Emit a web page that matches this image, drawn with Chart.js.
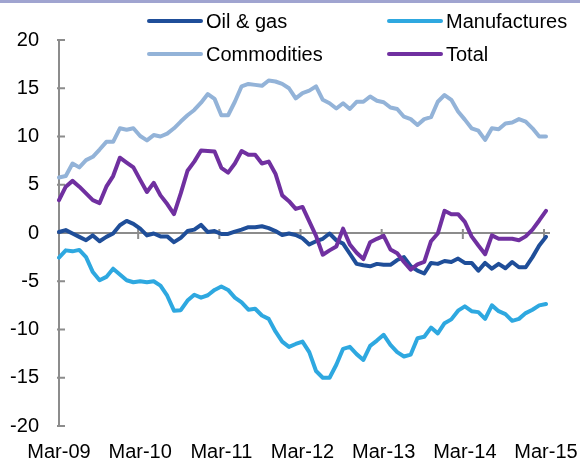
<!DOCTYPE html>
<html lang="en">
<head>
    <meta charset="UTF-8">
    <title>Exports growth</title>
    <script src="https://cdn.jsdelivr.net/npm/chart.js"></script>
    <style>
        body {
            margin: 0;
            background: #ffffff;
            font-family: "Liberation Sans", Arial, sans-serif;
        }

        .wrap {
            position: relative;
            width: 580px;
            height: 459px;
            overflow: hidden;
        }

        .top-band {
            position: absolute;
            top: 0;
            left: 0;
            width: 580px;
            height: 3px;
            background: #a0a4d0;
        }

        .legend-item {
            position: absolute;
            display: flex;
            align-items: center;
            height: 20px;
            font-size: 20px;
            line-height: 20px;
            color: #000;
        }

        .legend-item .swatch {
            width: 56px;
            height: 4px;
            border-radius: 2px;
            margin-right: 3px;
        }
    </style>
</head>
<body>
    <div class="wrap">
        <canvas id="exportsChart" width="580" height="459"></canvas>
        <div class="top-band"></div>
        <div id="legend"></div>
    </div>

    <script>
        const categories = [
            'Mar-09', 'Apr-09', 'May-09', 'Jun-09', 'Jul-09', 'Aug-09', 'Sep-09', 'Oct-09', 'Nov-09', 'Dec-09',
            'Jan-10', 'Feb-10', 'Mar-10', 'Apr-10', 'May-10', 'Jun-10', 'Jul-10', 'Aug-10', 'Sep-10', 'Oct-10', 'Nov-10', 'Dec-10',
            'Jan-11', 'Feb-11', 'Mar-11', 'Apr-11', 'May-11', 'Jun-11', 'Jul-11', 'Aug-11', 'Sep-11', 'Oct-11', 'Nov-11', 'Dec-11',
            'Jan-12', 'Feb-12', 'Mar-12', 'Apr-12', 'May-12', 'Jun-12', 'Jul-12', 'Aug-12', 'Sep-12', 'Oct-12', 'Nov-12', 'Dec-12',
            'Jan-13', 'Feb-13', 'Mar-13', 'Apr-13', 'May-13', 'Jun-13', 'Jul-13', 'Aug-13', 'Sep-13', 'Oct-13', 'Nov-13', 'Dec-13',
            'Jan-14', 'Feb-14', 'Mar-14', 'Apr-14', 'May-14', 'Jun-14', 'Jul-14', 'Aug-14', 'Sep-14', 'Oct-14', 'Nov-14', 'Dec-14',
            'Jan-15', 'Feb-15', 'Mar-15'
        ];
        const tickLabels = ['Mar-09', 'Mar-10', 'Mar-11', 'Mar-12', 'Mar-13', 'Mar-14', 'Mar-15'];

        const oilGas = [
            0.1, 0.3, -0.05, -0.4, -0.75, -0.25, -0.85, -0.4, -0.05, 0.8, 1.25, 0.95,
            0.45, -0.25, -0.05, -0.35, -0.35, -0.95, -0.5, 0.2, 0.35, 0.85, 0.1, 0.2,
            -0.1, -0.1, 0.15, 0.35, 0.6, 0.6, 0.7, 0.5, 0.2, -0.2, -0.05, -0.2,
            -0.55, -1.2, -0.85, -0.6, -0.05, -0.75, -1.1, -2.15, -3.2, -3.35, -3.45, -3.2,
            -3.3, -3.3, -2.8, -2.5, -3.45, -3.9, -4.2, -3.1, -3.2, -2.9, -3.0, -2.65,
            -3.1, -3.1, -3.9, -3.1, -3.7, -3.2, -3.65, -3.0, -3.55, -3.55, -2.5, -1.3,
            -0.4
        ];
        const manufactures = [
            -2.55, -1.8, -1.9, -1.75, -2.5, -4.05, -4.9, -4.55, -3.7, -4.3, -4.9, -5.1,
            -5.0, -5.1, -5.0, -5.45, -6.5, -8.05, -8.0, -7.0, -6.4, -6.7, -6.45, -5.9,
            -5.55, -5.9, -6.7, -7.2, -7.95, -7.85, -8.55, -8.9, -10.2, -11.25, -11.8, -11.5,
            -11.25, -12.35, -14.3, -15.0, -15.0, -13.65, -12.0, -11.8, -12.55, -13.15, -11.7, -11.15,
            -10.55, -11.6, -12.35, -12.8, -12.6, -10.9, -10.75, -9.8, -10.4, -9.35, -8.95, -8.05,
            -7.6, -8.1, -8.2, -8.9, -7.5, -8.1, -8.4, -9.1, -8.9, -8.3, -7.95, -7.5,
            -7.35
        ];
        const commodities = [
            5.75, 5.9, 7.2, 6.8, 7.55, 7.9, 8.65, 9.45, 9.45, 10.85, 10.7, 10.85,
            10.05, 9.6, 10.15, 10.0, 10.3, 10.85, 11.55, 12.2, 12.75, 13.5, 14.4, 13.9,
            12.2, 12.2, 13.6, 15.2, 15.45, 15.35, 15.25, 15.8, 15.7, 15.45, 15.0, 13.95,
            14.5, 14.75, 15.2, 13.8, 13.45, 12.9, 13.45, 12.85, 13.6, 13.6, 14.15, 13.7,
            13.55, 13.0, 12.85, 12.05, 11.8, 11.2, 11.8, 12.0, 13.6, 14.3, 13.8, 12.6,
            11.75, 10.85, 10.6, 9.65, 10.85, 10.75, 11.35, 11.45, 11.8, 11.55, 10.85, 10.0,
            10.0
        ];
        const total = [
            3.4, 4.8, 5.4, 4.8, 4.1, 3.4, 3.1, 4.8, 5.9, 7.8, 7.3, 6.8,
            5.5, 4.25, 5.2, 3.9, 3.0, 1.95, 4.1, 6.45, 7.4, 8.55, 8.5, 8.45,
            6.75, 6.25, 7.2, 8.5, 8.1, 8.1, 7.2, 7.4, 6.15, 3.9, 3.3, 2.5,
            2.7, 1.2, -0.3, -2.25, -1.8, -1.4, 0.45, -1.2, -2.05, -2.7, -0.95, -0.6,
            -0.3, -1.7, -2.1, -3.0, -3.8, -3.25, -3.0, -0.85, -0.05, 2.3, 1.95, 1.95,
            1.15, -0.35, -1.3, -2.2, -0.25, -0.6, -0.6, -0.6, -0.75, -0.35, 0.35, 1.3,
            2.3
        ];

        const axisColor = '#8c8c8c';
        const fontFamily = '"Liberation Sans", Arial, sans-serif';

        // zero line, x tick marks crossing it and inside y ticks
        const axisMarks = {
            id: 'axisMarks',
            beforeDatasetsDraw(chart) {
                const { ctx, chartArea, scales: { x, y } } = chart;
                const y0 = y.getPixelForValue(0);
                ctx.save();
                ctx.strokeStyle = axisColor;
                ctx.lineWidth = 2;
                ctx.beginPath();
                ctx.moveTo(chartArea.left, y0);
                ctx.lineTo(chartArea.right + 4, y0);
                categories.forEach((c, i) => {
                    if (i > 0 && tickLabels.includes(c)) {
                        const px = x.getPixelForValue(i) - 2;
                        ctx.moveTo(px, y0 - 4);
                        ctx.lineTo(px, y0 + 6);
                    }
                });
                y.ticks.forEach(t => {
                    const py = y.getPixelForValue(t.value);
                    ctx.moveTo(chartArea.left - 2, py);
                    ctx.lineTo(chartArea.left + 6, py);
                });
                ctx.stroke();
                ctx.restore();
            }
        };

        function series(label, data, color, order) {
            return {
                label: label,
                data: data,
                borderColor: color,
                backgroundColor: color,
                borderWidth: 4,
                pointRadius: 0,
                tension: 0,
                borderJoinStyle: 'round',
                borderCapStyle: 'round',
                order: order
            };
        }

        const ctx = document.getElementById('exportsChart').getContext('2d');
        const chart = new Chart(ctx, {
            type: 'line',
            data: {
                labels: categories,
                datasets: [
                    series('Oil & gas', oilGas, '#1f4e99', 4),
                    series('Manufactures', manufactures, '#2ea8e0', 3),
                    series('Commodities', commodities, '#93b3d8', 2),
                    series('Total', total, '#7030a0', 1)
                ]
            },
            options: {
                responsive: false,
                animation: false,
                layout: { padding: { top: 40, right: 34, bottom: 0, left: 0 } },
                plugins: {
                    legend: { display: false },
                    tooltip: { enabled: false }
                },
                scales: {
                    x: {
                        grid: { display: false, drawTicks: false },
                        border: { display: false },
                        afterFit(scale) {
                            scale.height = 33;
                            scale.paddingLeft = 0;
                            scale.paddingRight = 0;
                        },
                        ticks: {
                            autoSkip: false,
                            maxRotation: 0,
                            padding: 14,
                            color: '#000',
                            font: { family: fontFamily, size: 20 },
                            callback(value, index) {
                                const c = categories[index];
                                return tickLabels.includes(c) ? c : '';
                            }
                        }
                    },
                    y: {
                        min: -20,
                        max: 20,
                        grid: { display: false, drawTicks: false },
                        border: { display: true, color: axisColor, width: 2 },
                        afterFit(scale) { scale.width = 59; },
                        ticks: {
                            stepSize: 5,
                            padding: 20,
                            color: '#000',
                            font: { family: fontFamily, size: 20 }
                        }
                    }
                }
            },
            plugins: [axisMarks]
        });

        // legend in two aligned columns, built from the datasets
        const legendPos = [
            { left: 147, top: 10.5 },
            { left: 387, top: 10.5 },
            { left: 147, top: 43.5 },
            { left: 387, top: 43.5 }
        ];
        const legendEl = document.getElementById('legend');
        chart.data.datasets.forEach((ds, i) => {
            const item = document.createElement('div');
            item.className = 'legend-item';
            item.style.left = legendPos[i].left + 'px';
            item.style.top = legendPos[i].top + 'px';
            const sw = document.createElement('span');
            sw.className = 'swatch';
            sw.style.background = ds.borderColor;
            const txt = document.createElement('span');
            txt.textContent = ds.label;
            item.appendChild(sw);
            item.appendChild(txt);
            legendEl.appendChild(item);
        });
    </script>
</body>
</html>
